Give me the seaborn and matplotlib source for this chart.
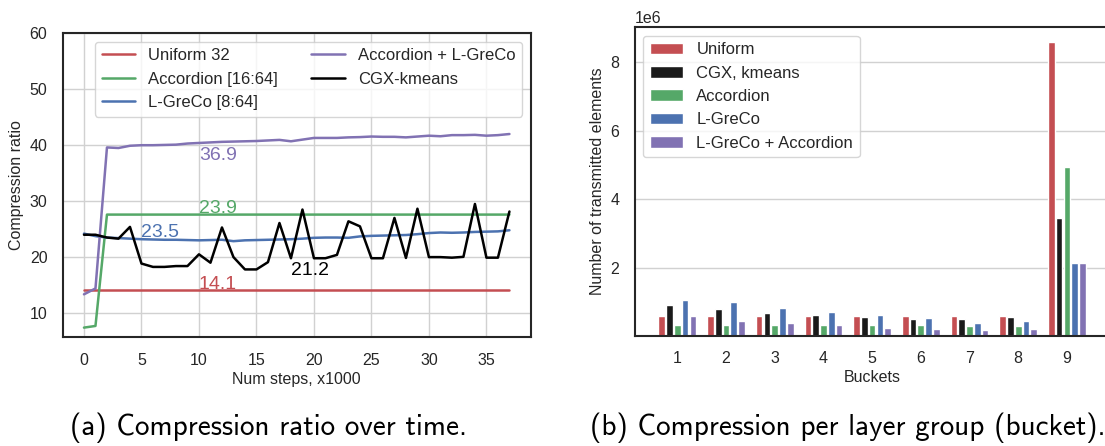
import numpy as np
import pandas as pd
import matplotlib
matplotlib.use("Agg")
import matplotlib.pyplot as plt
import seaborn as sns

# ---------------- data: (a) compression ratio over time ----------------
steps = list(range(38))
uniform32 = [14.1] * 38
accordion = [7.4, 7.7] + [27.6] * 36
lgreco = [24.2, 23.75, 23.5, 23.4, 23.3, 23.2, 23.15, 23.1, 23.1, 23.05,
          23.0, 23.05, 23.1, 22.85, 23.0, 23.05, 23.1, 23.15, 23.2, 23.3,
          23.45, 23.5, 23.5, 23.45, 23.7, 23.8, 23.85, 23.9, 23.95, 24.1,
          24.3, 24.4, 24.35, 24.4, 24.5, 24.55, 24.6, 24.8]
acc_lgreco = [13.35, 14.4, 39.6, 39.5, 39.9, 40.0, 40.0, 40.05, 40.1, 40.3,
              40.4, 40.5, 40.6, 40.65, 40.7, 40.75, 40.85, 40.95, 40.7, 41.0,
              41.3, 41.3, 41.3, 41.4, 41.45, 41.55, 41.5, 41.5, 41.4, 41.55,
              41.7, 41.6, 41.8, 41.8, 41.85, 41.7, 41.8, 42.0]
cgx = [24.0, 24.0, 23.5, 23.3, 25.4, 18.85, 18.25, 18.25, 18.4, 18.4,
       20.5, 19.0, 25.3, 20.0, 17.8, 17.8, 19.1, 26.1, 19.8, 28.5,
       19.8, 19.8, 20.4, 26.4, 25.5, 19.8, 19.8, 27.0, 19.85, 28.65,
       20.0, 20.0, 19.9, 20.05, 29.5, 19.9, 19.9, 28.15]
line_names = ["Uniform 32", "Accordion [16:64]", "L-GreCo [8:64]",
              "Accordion + L-GreCo", "CGX-kmeans"]
line_colors = ["#C44E52", "#55A868", "#4C72B0", "#8172B3", "#000000"]
avg_labels = ["14.1", "23.9", "23.5", "36.9", "21.2"]

# ---------------- data: (b) transmitted elements per bucket ----------------
buckets = ["1", "2", "3", "4", "5", "6", "7", "8", "9"]
bar_uniform = [0.585, 0.585, 0.585, 0.585, 0.585, 0.585, 0.585, 0.585, 8.58]
bar_cgx = [0.92, 0.80, 0.68, 0.61, 0.55, 0.50, 0.50, 0.55, 3.44]
bar_accordion = [0.32, 0.32, 0.32, 0.32, 0.32, 0.32, 0.30, 0.30, 4.95]
bar_lgreco = [1.05, 0.98, 0.83, 0.71, 0.61, 0.54, 0.39, 0.45, 2.14]
bar_lgreco_acc = [0.585, 0.45, 0.39, 0.32, 0.22, 0.20, 0.18, 0.19, 2.14]
bar_names = ["Uniform", "CGX, kmeans", "Accordion", "L-GreCo",
             "L-GreCo + Accordion"]
bar_colors = ["#C44E52", "#1a1a1a", "#55A868", "#4C72B0", "#8172B3"]

captions = ["(a) Compression ratio over time.",
            "(b) Compression per layer group (bucket)."]

# ---------------- style ----------------
sns.set_theme(style="whitegrid",
              rc={"axes.edgecolor": ".15", "axes.linewidth": 1.5,
                  "grid.color": ".82", "grid.linewidth": 1.0,
                  "xtick.color": ".15", "ytick.color": ".15",
                  "axes.labelcolor": ".15", "text.color": ".15"})
plt.rcParams["font.family"] = ["Liberation Sans", "DejaVu Sans"]

FS = 11.5
W, H = 1105, 446
fig = plt.figure(figsize=(W / 100, H / 100), dpi=100)

def px_axes(left, top, right, bottom):
    return fig.add_axes([left / W, 1 - bottom / H, (right - left) / W,
                         (bottom - top) / H])

# ---------------- (a) ----------------
ax1 = px_axes(62.7, 33.3, 530.7, 337.3)
series = [uniform32, accordion, lgreco, acc_lgreco, cgx]
df_lines = pd.concat([
    pd.DataFrame({"step": steps, "ratio": vals, "method": name})
    for name, vals in zip(line_names, series)
], ignore_index=True)
sns.lineplot(data=df_lines, x="step", y="ratio", hue="method",
             hue_order=line_names, palette=line_colors, linewidth=1.8,
             ax=ax1)
ax1.set_ylim(top=60)
ax1.set_xticks(range(0, 36, 5))
ax1.set_yticks(range(10, 61, 10))
ax1.tick_params(labelsize=FS, pad=5)
ax1.set_xlabel("Num steps, x1000", fontsize=FS, labelpad=3)
ax1.set_ylabel("Compression ratio", fontsize=FS)
ax1.legend(loc="upper right", ncol=2, fontsize=12, frameon=True,
           columnspacing=2.0)
text_pos = [(10, 14.3), (10, 27.9), (5, 23.6), (10, 37.3), (18, 16.8)]
for (tx, ty), lab, col in zip(text_pos, avg_labels, line_colors):
    ax1.text(tx, ty, lab, color=col, fontsize=14, ha="left",
             va="baseline")
for sp in ax1.spines.values():
    sp.set_color(".15")

# ---------------- (b) ----------------
ax2 = px_axes(634.7, 27.3, 1109.5, 336.0)
bar_series = [bar_uniform, bar_cgx, bar_accordion, bar_lgreco, bar_lgreco_acc]
df_bars = pd.concat([
    pd.DataFrame({"bucket": buckets, "elements": np.array(vals) * 1e6,
                  "method": name})
    for name, vals in zip(bar_names, bar_series)
], ignore_index=True)
sns.barplot(data=df_bars, x="bucket", y="elements", hue="method",
            order=buckets, hue_order=bar_names, palette=bar_colors,
            saturation=1, gap=0.15, ax=ax2)
ax2.set_xlim(-0.875, 8.875)
ax2.set_ylim(0, 9.02e6)
ax2.set_yticks([2e6, 4e6, 6e6, 8e6])
ax2.tick_params(labelsize=FS, pad=5)
ax2.yaxis.get_offset_text().set_fontsize(FS)
ax2.set_xlabel("Buckets", fontsize=FS, labelpad=3)
ax2.set_ylabel("Number of transmitted elements", fontsize=FS)
ax2.legend(loc="upper left", fontsize=12, frameon=True)
for sp in ax2.spines.values():
    sp.set_color(".15")

# ---------------- captions ----------------
fig.text(268 / W, 1 - 428 / H, captions[0], ha="center", va="center",
         fontsize=21, family=["cmss10", "DejaVu Sans"], color="black")
fig.text(848 / W, 1 - 428 / H, captions[1], ha="center", va="center",
         fontsize=21, family=["cmss10", "DejaVu Sans"], color="black")

fig.savefig("out.png", dpi=100)
